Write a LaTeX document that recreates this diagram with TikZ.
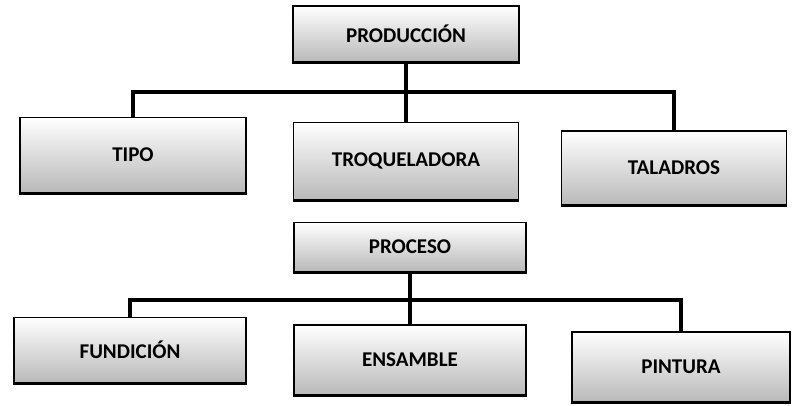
\documentclass[tikz,border=0pt]{standalone}
\usepackage{fontspec}
\setmainfont{Carlito}
\begin{document}
\begin{tikzpicture}[x=1pt,y=-1pt,
  box/.style={draw,line width=1.2pt,top color=white,middle color=white,bottom color=gray!55,
    font=\bfseries\fontsize{21}{25}\selectfont},
  link/.style={line width=3.5pt}]
\useasboundingbox (0,0) rectangle (793,406);
\foreach \n/\x/\y/\w/\h/\t in {prod/406/34/226/56/PRODUCCIÓN,
    tipo/133/155/226/75/TIPO, troq/406/161/225/77/TROQUELADORA,
    tal/674/168/225/74/TALADROS, proc/410/247/232/49/PROCESO,
    fund/130/350/232/65/FUNDICIÓN, ens/410/360/232/70/ENSAMBLE,
    pint/681/367/218/70/PINTURA}
  \node[box,minimum width=\w pt,minimum height=\h pt] (\n) at (\x,\y) {\t};

% heavier lower edge of each box
\foreach \n in {prod,tipo,troq,tal,proc,fund,ens,pint}
  \draw[line width=3pt] (\n.south west) -- (\n.south east);

\coordinate (bus1) at (406,92);
\coordinate (bus2) at (410,300);
\draw[link] (prod) -- (troq);
\draw[link] (tipo.north) |- (bus1) -| (tal.north);
\draw[link] (proc) -- (ens);
\draw[link] (fund.north) |- (bus2) -| (pint.north);
\end{tikzpicture}
\end{document}
